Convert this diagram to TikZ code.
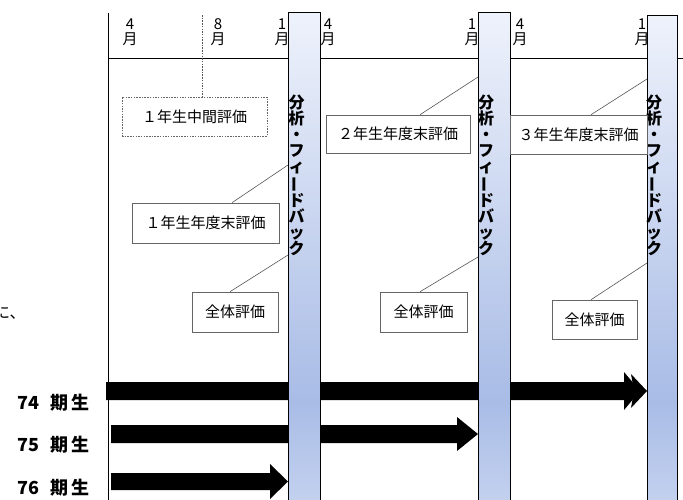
\documentclass[tikz,border=0pt]{standalone}
\usepackage{fontspec}
\setmainfont{Noto Sans CJK JP}
\usepackage{graphicx}
\definecolor{bandtop}{HTML}{EEF2FB}
\definecolor{bandmid}{HTML}{A9BCE6}
\definecolor{bandbot}{HTML}{C4D2EF}
\definecolor{boxline}{HTML}{666666}
\definecolor{connline}{HTML}{555555}
\pgfdeclareverticalshading{bandshade}{100bp}{color(0bp)=(bandbot); color(25bp)=(bandbot); color(35.6bp)=(bandmid); color(75bp)=(bandtop); color(100bp)=(bandtop)}
\tikzset{
  grid/.style={draw=black, line width=0.8pt},
  band/.style={draw=black, line width=1pt, shading=bandshade, rectangle, inner sep=0pt, anchor=north west},
  bandtext/.style={inner sep=0pt, anchor=north west, align=center, text width=16pt, font=\bfseries\fontsize{16}{16}\selectfont},
  evbox/.style={draw=boxline, line width=0.6pt, fill=white, rectangle, inner sep=0pt, font=\fontsize{15}{17}\selectfont},
  conn/.style={draw=connline, line width=0.6pt},
  month/.style={inner sep=0pt, align=center, font=\fontsize{15}{15}\selectfont},
  bar/.style={fill=black, draw=none},
  cohort/.style={inner sep=0pt, anchor=east, font=\bfseries\fontsize{18}{20}\selectfont},
}
\begin{document}
\begin{tikzpicture}[x=1pt,y=-1pt]
\useasboundingbox (0,0) rectangle (683,499);
% stray body text
\node[inner sep=0pt, anchor=west, font=\fontsize{16}{18}\selectfont] (ni) at (-6,313) {に、};
% grid
\coordinate (gtop) at (108,13);
\coordinate (gbot) at (108,505);
\coordinate (hl) at (108,58);
\coordinate (hr) at (690,58);
\draw[grid] (gtop) -- (gbot);
\draw[grid] (hl) -- (hr);
% month labels
\node[month] (m4a) at (130,32) {4\\月};
\node[month] (m8a) at (218,32) {8\\月};
\node[month] (m1a) at (282,32) {1\\月};
\node[month] (m4b) at (328,32) {4\\月};
\node[month] (m1b) at (472,32) {1\\月};
\node[month] (m4c) at (520,32) {4\\月};
\node[month] (m1c) at (642,32) {1\\月};
% cohort bars
\path[bar] (106,382) -- (624,382) -- (624,372) -- (640,391) -- (624,410) -- (624,400) -- (106,400) -- cycle;
\path[bar] (631,374) -- (647,391) -- (631,408) -- (634,391) -- cycle;
\path[bar] (111,425) -- (457,425) -- (457,417) -- (478,434) -- (457,451) -- (457,443) -- (111,443) -- cycle;
\path[bar] (111,473) -- (270,473) -- (270,464) -- (288,481.5) -- (270,499) -- (270,490) -- (111,490) -- cycle;
\node[cohort] (c74) at (90,403) {74\hspace{11pt}期\hspace{3pt}生};
\node[cohort] (c75) at (90,445) {75\hspace{11pt}期\hspace{3pt}生};
\node[cohort] (c76) at (90,488) {76\hspace{11pt}期\hspace{3pt}生};
% bands
\node[band, minimum width=32pt, minimum height=493pt] (b1) at (288,12) {};
\node[band, minimum width=32pt, minimum height=493pt] (b2) at (478,12) {};
\node[band, minimum width=30pt, minimum height=490pt] (b3) at (647,15) {};
\node[bandtext] (t1txt) at (288.5,95) {分\\析\\・\\フ\\ィ\\\rotatebox[origin=c]{90}{ー}\\ド\\バ\\ッ\\ク};
\node[bandtext] (t2txt) at (478,95) {分\\析\\・\\フ\\ィ\\\rotatebox[origin=c]{90}{ー}\\ド\\バ\\ッ\\ク};
\node[bandtext] (t3txt) at (646,95) {分\\析\\・\\フ\\ィ\\\rotatebox[origin=c]{90}{ー}\\ド\\バ\\ッ\\ク};
% event boxes
\node[evbox, dash pattern=on 1.5pt off 1.2pt, minimum width=145pt, minimum height=39pt] (mid1) at (194.5,116.5) {１年生中間評価};
\node[evbox, minimum width=147pt, minimum height=40pt] (end1) at (205.5,223) {１年生年度末評価};
\node[evbox, minimum width=86pt, minimum height=40pt] (all1) at (235,312) {全体評価};
\node[evbox, minimum width=144pt, minimum height=38pt] (end2) at (398,134) {２年生年度末評価};
\node[evbox, minimum width=87pt, minimum height=40pt] (all2) at (423.5,312) {全体評価};
\node[evbox, minimum width=137pt, minimum height=39pt] (end3) at (578.5,134.5) {３年生年度末評価};
\node[evbox, minimum width=85pt, minimum height=39pt] (all3) at (594.5,319.5) {全体評価};
% connectors
\coordinate (aug) at (202,15);
\draw[conn, dash pattern=on 1.5pt off 1.2pt] (aug) -- (aug |- mid1.north);
\draw[conn] ([xshift=26.5]end1.north) -- (b1.north west |- 0,165);
\draw[conn] ([xshift=-5]all1.north) -- (b1.north west |- 0,255);
\draw[conn] ([xshift=22]end2.north) -- (b2.north west |- 0,77);
\draw[conn] ([xshift=-3.5]all2.north) -- (b2.north west |- 0,257);
\draw[conn] ([xshift=12.5]end3.north) -- (b3.north west |- 0,79);
\draw[conn] ([xshift=-3.5]all3.north) -- (b3.north west |- 0,263);
\end{tikzpicture}
\end{document}
